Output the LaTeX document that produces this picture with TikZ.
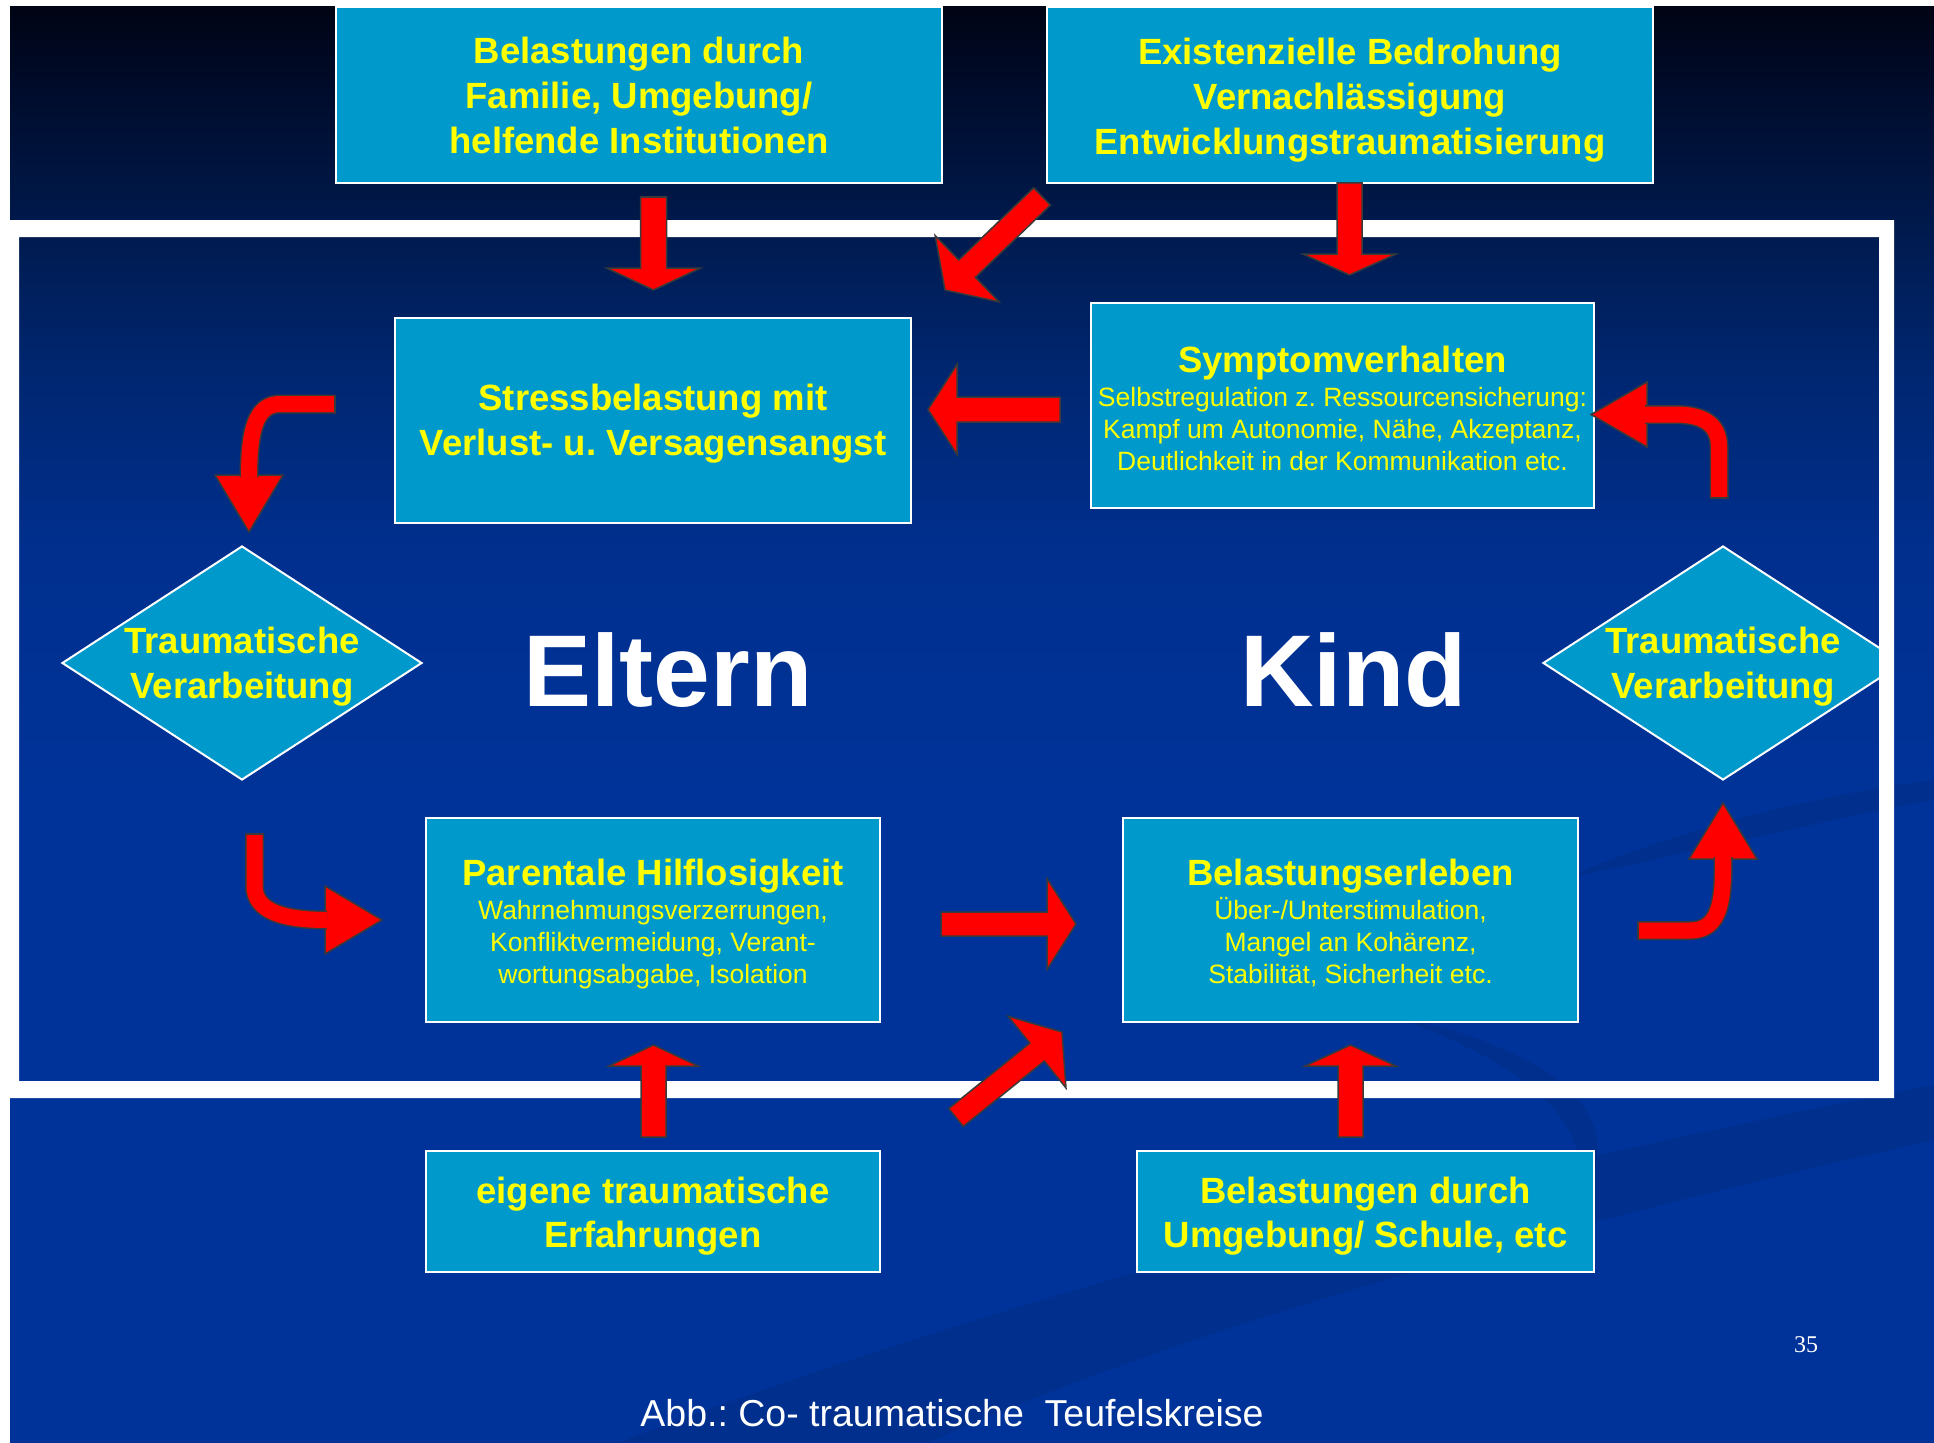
\documentclass[tikz,border=0pt]{standalone}
\usepackage{fontspec}
\setmainfont{Liberation Sans}
\newfontfamily\pagenumfont{Liberation Serif}
\usetikzlibrary{calc,shapes.geometric}
\frenchspacing
\definecolor{boxblue}{HTML}{0099CC}
\definecolor{txtyellow}{HTML}{FFFF00}
\definecolor{arrred}{HTML}{FF0000}
\definecolor{arredge}{HTML}{3A3A3A}
\definecolor{bgBot}{HTML}{003399}
\definecolor{bgLow}{HTML}{002F8E}
\definecolor{bgMid}{HTML}{00266F}
\definecolor{bgUp}{HTML}{001848}
\definecolor{bgHigh}{HTML}{000C2C}
\definecolor{bgTop}{HTML}{000414}
% the path's bounding box maps onto 25bp..75bp of the shading
\pgfdeclareverticalshading{slidebg}{100bp}{color(0bp)=(bgBot); color(47.5bp)=(bgBot); color(56bp)=(bgLow); color(62.5bp)=(bgMid); color(68bp)=(bgUp); color(72bp)=(bgHigh); color(75bp)=(bgTop); color(100bp)=(bgTop)}
% extra height in the first row: moves a node's text down by #1 pt
\newcommand\sh[1]{\rule{0pt}{\dimexpr 26.6pt+#1pt*2\relax}}
\newcommand\blockarrow[5]{%
  \path[barrow] let \p1=(#1), \p2=(#2), \n1={atan2(\y2-\y1,\x2-\x1)}, \n2={veclen(\x2-\x1,\y2-\y1)-#5} in
  ($(\p1)+(\n1+90:#3pt)$) -- ($(\p1)+(\n1:\n2)+(\n1+90:#3pt)$) -- ($(\p1)+(\n1:\n2)+(\n1+90:#4pt)$) -- (\p2)
  -- ($(\p1)+(\n1:\n2)+(\n1-90:#4pt)$) -- ($(\p1)+(\n1:\n2)+(\n1-90:#3pt)$) -- ($(\p1)+(\n1-90:#3pt)$) -- cycle;}
\begin{document}
\begin{tikzpicture}[x=1pt,y=-1pt,
  box/.style={draw=white, line width=2pt, fill=boxblue, inner sep=0pt, align=center, text=txtyellow},
  bigtext/.style={font={\fontsize{36.5}{45}\selectfont\bfseries}},
  bigtextb/.style={font={\fontsize{36.5}{44}\selectfont\bfseries}},
  smalltext/.style={font={\fontsize{26.5}{32}\selectfont}},
  diam/.style={diamond, draw=white, line width=2pt, fill=boxblue, inner xsep=0pt, inner ysep=-4pt, aspect=1.538,
    minimum width=360pt, minimum height=234pt, align=center, text=txtyellow, bigtext},
  bigword/.style={text=white, font={\fontsize{102}{102}\selectfont\bfseries}, inner sep=0pt},
  barrow/.style={fill=arrred, draw=arredge, line width=1.5pt, line join=miter},
  cshaft/.style={draw=arredge, line width=1.5pt, double=arrred, double distance=16pt},
  tailcap/.style={draw=arredge, line width=1.5pt}]
\fill[white] (0,0) rectangle (1934,1442);
\useasboundingbox (0,0) rectangle (1934,1442);
% slide background
\shade[shading=slidebg] (10,7) rectangle (1934,1442);
% faint swooshes of the slide design
\fill[black, opacity=0.08] (620,1442) .. controls (1100,1260) and (1600,1150) .. (1934,1085)
  -- (1934,1140) .. controls (1600,1215) and (1200,1320) .. (930,1442) -- cycle;
\fill[black, opacity=0.08] (1390,1015) .. controls (1560,1050) and (1640,1120) .. (1575,1205)
  .. controls (1600,1125) and (1530,1065) .. (1390,1015) -- cycle;
\fill[black, opacity=0.07] (1560,880) .. controls (1700,820) and (1850,790) .. (1934,780)
  -- (1934,800) .. controls (1850,815) and (1700,850) .. (1560,880) -- cycle;
% diamonds (under the frame; the right one is cut by the frame)
\node[diam] (ldia) at (242,663) {\sh{4}Traumatische\\Verarbeitung};
\begin{scope}
  \clip (0,0) rectangle (1880,1442);
  \node[diam] (rdia) at (1723,663) {\sh{4}Traumatische\\Verarbeitung};
\end{scope}
% white frame
\fill[white, even odd rule] (10,220) rectangle (1894,1098) (19,237) rectangle (1879,1081);
% boxes
\node[box, bigtext, minimum width=606pt, minimum height=176pt] (tl) at (639,95)
  {Belastungen durch\\Familie, Umgebung/\\helfende Institutionen};
\node[box, bigtext, minimum width=606pt, minimum height=176pt] (tr) at (1350,95)
  {\sh{5.5}Existenzielle Bedrohung\\Vernachlässigung\\Entwicklungstraumatisierung};
\node[box, bigtext, minimum width=516pt, minimum height=205pt] (stress) at (653,420.5)
  {\sh{3.5}Stressbelastung mit\\Verlust- u. Versagensangst};
\node[box, smalltext, minimum width=503pt, minimum height=205pt] (symp) at (1342.5,405.5)
  {\sh{2.5}{\fontsize{36.5}{40}\selectfont\bfseries Symptomverhalten}\\[2pt]Selbstregulation z. Ressourcensicherung:\\Kampf um Autonomie, Nähe, Akzeptanz,\\Deutlichkeit in der Kommunikation etc.};
\node[box, smalltext, minimum width=454pt, minimum height=204pt] (par) at (653,920)
  {\sh{4}{\fontsize{36.5}{40}\selectfont\bfseries Parentale Hilflosigkeit}\\[2pt]Wahrnehmungsverzerrungen,\\Konfliktvermeidung, Verant-\\wortungsabgabe, Isolation};
\node[box, smalltext, minimum width=455pt, minimum height=204pt] (bel) at (1350.5,920)
  {\sh{3}{\fontsize{36.5}{40}\selectfont\bfseries Belastungserleben}\\[2pt]Über-/Unterstimulation,\\Mangel an Kohärenz,\\Stabilität, Sicherheit etc.};
\node[box, bigtextb, minimum width=454pt, minimum height=121pt] (eig) at (653,1211.5)
  {\sh{5}eigene traumatische\\Erfahrungen};
\node[box, bigtextb, minimum width=457pt, minimum height=121pt] (umg) at (1365.5,1211.5)
  {\sh{5}Belastungen durch\\Umgebung/ Schule, etc};
% big words
\node[bigword, anchor=base] (eltern) at (668,706) {Eltern};
\node[bigword, anchor=base] (kind) at (1353.5,706) {Kind};
% caption and page number
\node[text=white, font={\fontsize{37.5}{40}\selectfont}, anchor=base, inner sep=0pt] (cap) at (952,1426)
  {Abb.: Co- traumatische\ \ Teufelskreise};
\node[text=white, font={\pagenumfont\fontsize{24}{28}\selectfont}, anchor=base, inner sep=0pt] (pnum) at (1806,1352) {35};
% straight block arrows
\coordinate (a1s) at (653.5,197);   \coordinate (a1e) at (653.5,290);
\coordinate (a2s) at (1042,196.5);  \coordinate (a2e) at (945,290);
\coordinate (a3s) at (1349.5,183);  \coordinate (a3e) at (1349.5,275);
\coordinate (a4s) at (1060,409.5);  \coordinate (a4e) at (928,409.5);
\coordinate (a7s) at (941,924);     \coordinate (a7e) at (1076,924);
\coordinate (a8s) at (956,1117.5);  \coordinate (a8e) at (1062,1032);
\coordinate (a9s) at (653.5,1137);  \coordinate (a9e) at (653.5,1045);
\coordinate (a10s) at (1350.5,1137); \coordinate (a10e) at (1350.5,1045);
\blockarrow{a1s}{a1e}{13}{47}{22}
\blockarrow{a2s}{a2e}{12}{46}{30.6}
\blockarrow{a3s}{a3e}{12.5}{46.5}{21}
\blockarrow{a4s}{a4e}{12.5}{45}{29}
\blockarrow{a7s}{a7e}{12}{45.5}{29}
\blockarrow{a8s}{a8e}{11.5}{46}{32}
\blockarrow{a9s}{a9e}{12.5}{44.5}{21}
\blockarrow{a10s}{a10e}{12.5}{45.5}{21}
% curved arrow: Stress -> left diamond
\coordinate (c5s) at (335,404);
\coordinate (c5e) at (249,532);
\path[barrow] (215,475) -- (c5e) -- (283,475) -- cycle;
\draw[cshaft] (c5s) -- (280,404) .. controls (256,404) and (249,430) .. (249,477);
\draw[tailcap] (335,394.5) -- (335,413.5);
% curved arrow: left diamond -> Parentale
\coordinate (c6s) at (254.5,834);
\coordinate (c6e) at (382,920);
\path[barrow] (325,886) -- (c6e) -- (325,954) -- cycle;
\draw[cshaft] (c6s) -- (254.5,886) .. controls (254.5,912) and (285,920) .. (327,920);
\draw[tailcap] (245,834) -- (264,834);
% curved arrow: Belastungserleben -> right diamond
\coordinate (c11s) at (1638,930.5);
\coordinate (c11e) at (1723,803);
\path[barrow] (1689,859) -- (c11e) -- (1757,859) -- cycle;
\draw[cshaft] (c11s) -- (1690,930.5) .. controls (1715,930.5) and (1723,910) .. (1723,870) -- (1723,857);
\draw[tailcap] (1638,921) -- (1638,940);
% curved arrow: right diamond -> Symptomverhalten
\coordinate (c12s) at (1719,498);
\coordinate (c12e) at (1591,414.5);
\path[barrow] (1647,382) -- (c12e) -- (1647,447) -- cycle;
\draw[cshaft] (c12s) -- (1719,447) .. controls (1719,422) and (1700,414.5) .. (1675,414.5) -- (1645,414.5);
\draw[tailcap] (1709.5,498) -- (1728.5,498);
\end{tikzpicture}
\end{document}
